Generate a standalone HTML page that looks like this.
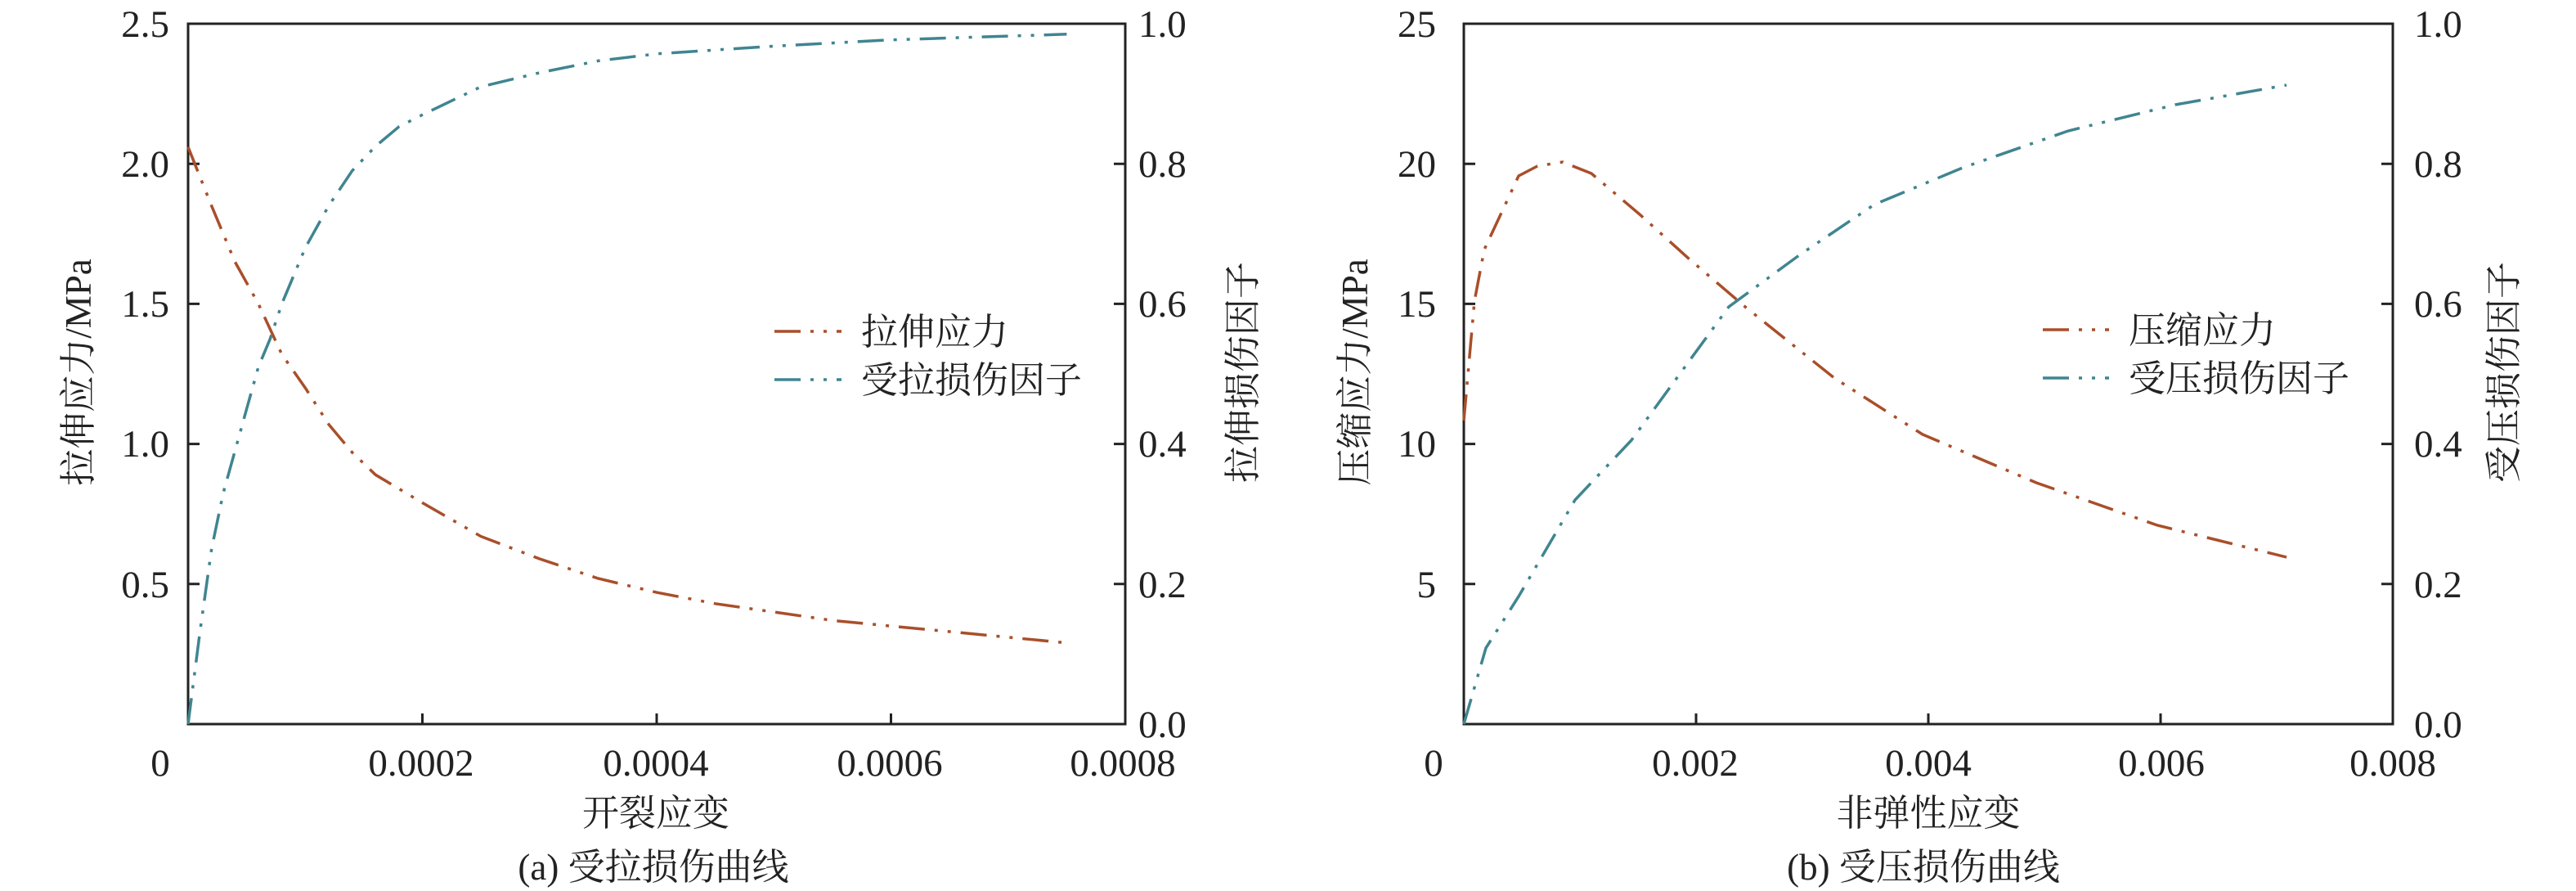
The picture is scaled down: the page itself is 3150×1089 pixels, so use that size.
<!DOCTYPE html>
<html><head><meta charset="utf-8"><style>
html,body{margin:0;padding:0;background:#fff;}
svg{display:block;}
.t{font-family:"Liberation Serif",serif;font-size:47px;fill:#222;}
.c{font-family:"Liberation Serif","Noto Serif CJK SC",serif;font-size:45px;fill:#222;}
</style></head><body>
<svg width="3150" height="1089" viewBox="0 0 3150 1089" xmlns="http://www.w3.org/2000/svg">
<g fill="none" stroke="#222" stroke-width="3">
<rect x="230" y="29" width="1146" height="856"/>
<rect x="1790" y="29" width="1136" height="856"/>
<path d="M230 713.8h14M230 542.6h14M230 371.4h14M230 200.2h14M1376 713.8h-14M1376 542.6h-14M1376 371.4h-14M1376 200.2h-14M516.5 885v-13M803 885v-13M1089.5 885v-13"/>
<path d="M1790 713.8h14M1790 542.6h14M1790 371.4h14M1790 200.2h14M2926 713.8h-14M2926 542.6h-14M2926 371.4h-14M2926 200.2h-14M2074 885v-13M2358 885v-13M2642 885v-13"/>
</g>
<g fill="none" stroke-width="3.5" stroke-dasharray="32 12 4 12 4 12">
<polyline stroke="#a94f2a" points="230,179.7 258.7,251.6 287.3,320 316,371.4 344.6,433 373.3,474.1 401.9,518.6 430.6,552.9 459.2,580.3 487.9,597.4 516.5,614.5 588.1,655.6 659.8,683 731.4,707 803,724.1 874.6,737.8 946.3,748 1017.9,758.3 1089.5,765.2 1161.1,772 1232.8,778.9 1304.4,785.7"/>
<polyline stroke="#3f8590" points="230,885 244.3,773.7 258.7,671 273,602.5 287.3,551.2 301.6,499.8 316,448.4 330.3,414.2 344.6,371.4 373.3,302.9 401.9,251.6 430.6,208.8 459.2,178.8 487.9,154.8 516.5,140.3 588.1,106 659.8,88.9 731.4,74.4 803,65.8 946.3,56.4 1089.5,48.7 1304.4,41.8"/>
<polyline stroke="#a94f2a" points="1790,514 1803,368 1815,305 1857,215 1880,203 1911,198 1946,212 2005,262 2065,316 2134,375 2243,462 2351,531 2490,590 2638,642 2796,681"/>
<polyline stroke="#3f8590" points="1790,885 1817,792 1857,729 1926,611 1995,538 2114,375 2200,312 2292,250 2400,205 2529,160 2660,128 2796,104"/>
<line x1="947" y1="405" x2="1029" y2="405" stroke="#a94f2a"/>
<line x1="947" y1="464" x2="1029" y2="464" stroke="#3f8590"/>
<line x1="2498" y1="403" x2="2579" y2="403" stroke="#a94f2a"/>
<line x1="2498" y1="462" x2="2579" y2="462" stroke="#3f8590"/>
</g>
<g class="t">
<g text-anchor="end">
<text x="207" y="45">2.5</text><text x="207" y="216">2.0</text><text x="207" y="387">1.5</text><text x="207" y="558">1.0</text><text x="207" y="730">0.5</text>
<text x="1756" y="45">25</text><text x="1756" y="216">20</text><text x="1756" y="387">15</text><text x="1756" y="558">10</text><text x="1756" y="730">5</text>
</g>
<g text-anchor="start">
<text x="1392" y="45">1.0</text><text x="1392" y="216">0.8</text><text x="1392" y="387">0.6</text><text x="1392" y="558">0.4</text><text x="1392" y="730">0.2</text><text x="1392" y="901">0.0</text>
<text x="2952" y="45">1.0</text><text x="2952" y="216">0.8</text><text x="2952" y="387">0.6</text><text x="2952" y="558">0.4</text><text x="2952" y="730">0.2</text><text x="2952" y="901">0.0</text>
</g>
<g text-anchor="middle">
<text x="196" y="948">0</text><text x="515" y="948">0.0002</text><text x="802" y="948">0.0004</text><text x="1088" y="948">0.0006</text><text x="1373" y="948">0.0008</text>
<text x="1753" y="948">0</text><text x="2073" y="948">0.002</text><text x="2358" y="948">0.004</text><text x="2643" y="948">0.006</text><text x="2926" y="948">0.008</text>
</g>
</g>
<g class="c">
<text x="1053" y="421">拉伸应力</text>
<text x="1053" y="480">受拉损伤因子</text>
<text x="2603" y="419">压缩应力</text>
<text x="2603" y="478">受压损伤因子</text>
<text x="802" y="1009" text-anchor="middle">开裂应变</text>
<text x="799" y="1075" text-anchor="middle">(a) 受拉损伤曲线</text>
<text x="2358" y="1009" text-anchor="middle">非弹性应变</text>
<text x="2352" y="1075" text-anchor="middle">(b) 受压损伤曲线</text>
<text transform="translate(111,455) rotate(-90)" text-anchor="middle">拉伸应力/MPa</text>
<text transform="translate(1535,455) rotate(-90)" text-anchor="middle">拉伸损伤因子</text>
<text transform="translate(1672,455) rotate(-90)" text-anchor="middle">压缩应力/MPa</text>
<text transform="translate(3077,455) rotate(-90)" text-anchor="middle">受压损伤因子</text>
</g>
</svg>
</body></html>
